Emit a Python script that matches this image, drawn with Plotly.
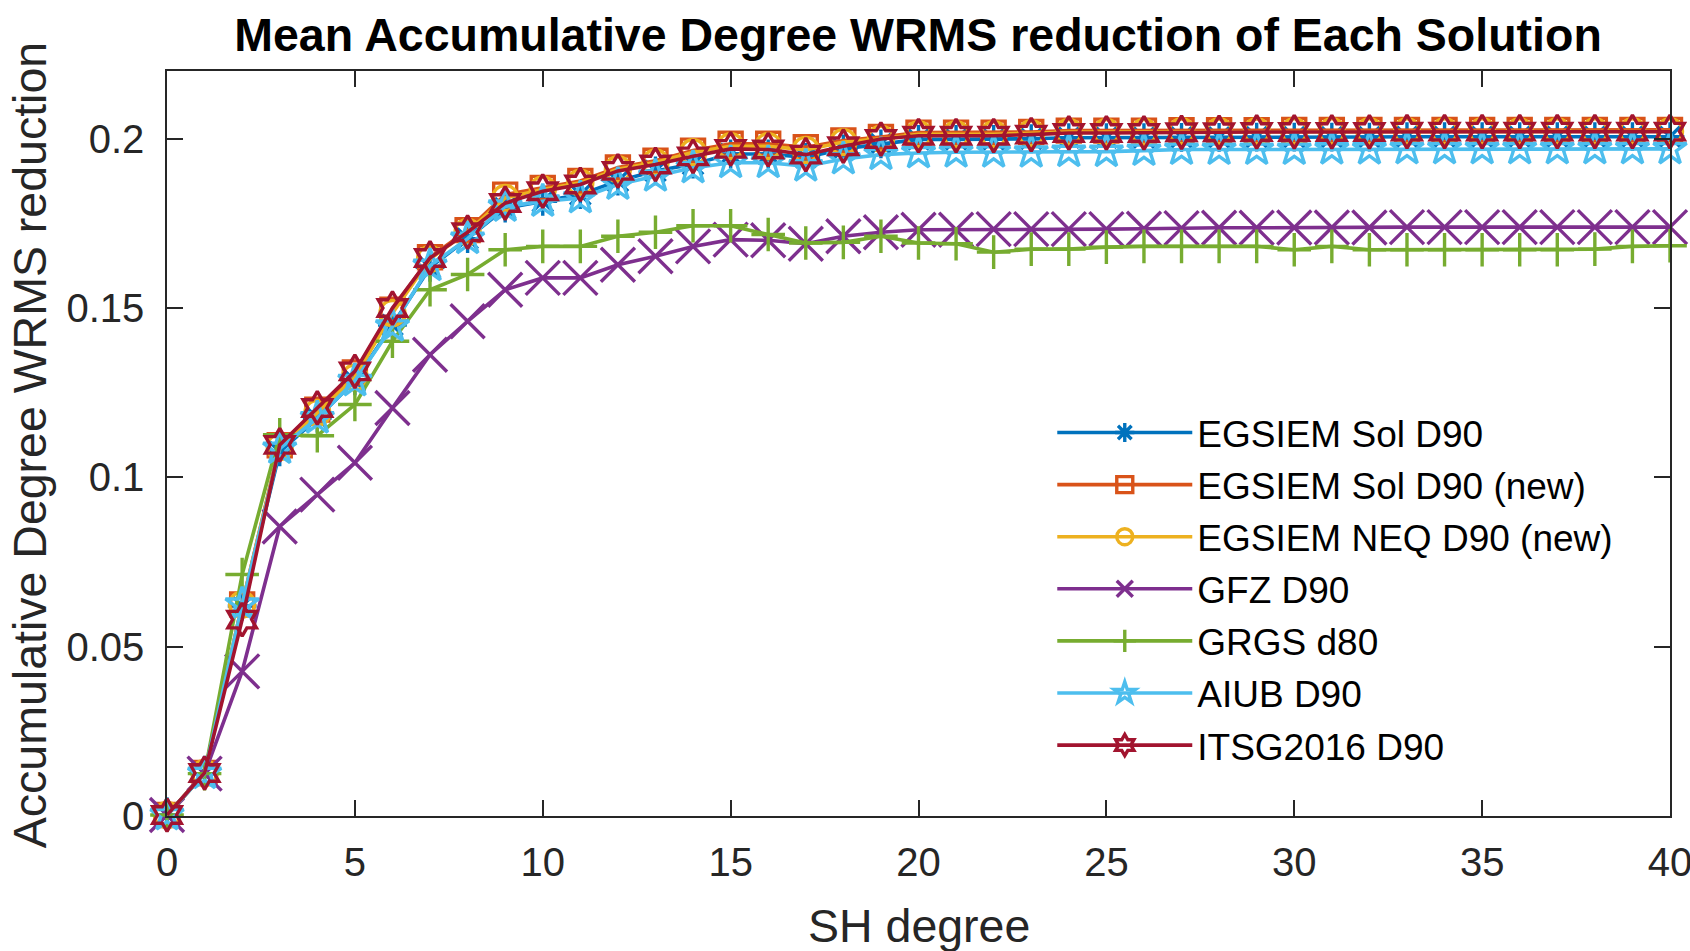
import plotly.graph_objects as go

degrees = list(range(41))

egsiem_sol = [0.0003, 0.0125, 0.0620, 0.1075, 0.1175, 0.1285, 0.1450, 0.1620, 0.1705, 0.1795,
              0.1815, 0.1835, 0.1875, 0.1905, 0.1925, 0.1955, 0.1955, 0.1945, 0.1970, 0.1985,
              0.1998, 0.1998, 0.1998, 0.2000, 0.2003, 0.2003, 0.2003, 0.2004, 0.2004, 0.2005,
              0.2005, 0.2005, 0.2005, 0.2006, 0.2006, 0.2006, 0.2006, 0.2006, 0.2006, 0.2006, 0.2006]
egsiem_sol_new = [0.0003, 0.0127, 0.0625, 0.1095, 0.1200, 0.1310, 0.1495, 0.1650, 0.1730, 0.1835,
                  0.1855, 0.1875, 0.1915, 0.1935, 0.1965, 0.1985, 0.1985, 0.1975, 0.1995, 0.2005,
                  0.2018, 0.2018, 0.2018, 0.2020, 0.2024, 0.2024, 0.2024, 0.2025, 0.2025, 0.2025,
                  0.2026, 0.2026, 0.2026, 0.2026, 0.2026, 0.2026, 0.2026, 0.2026, 0.2026, 0.2026, 0.2026]
egsiem_neq_new = [0.0003, 0.0127, 0.0625, 0.1090, 0.1190, 0.1295, 0.1485, 0.1645, 0.1725, 0.1825,
                  0.1850, 0.1870, 0.1910, 0.1930, 0.1960, 0.1978, 0.1978, 0.1967, 0.1990, 0.2000,
                  0.2013, 0.2013, 0.2013, 0.2016, 0.2020, 0.2020, 0.2020, 0.2022, 0.2022, 0.2022,
                  0.2022, 0.2022, 0.2022, 0.2022, 0.2022, 0.2022, 0.2022, 0.2022, 0.2022, 0.2022, 0.2022]
gfz = [0.0003, 0.0125, 0.0427, 0.0855, 0.0949, 0.1043, 0.1205, 0.1362, 0.1461, 0.1554,
       0.1589, 0.1589, 0.1628, 0.1653, 0.1682, 0.1702, 0.1700, 0.1690, 0.1712, 0.1724,
       0.1731, 0.1731, 0.1733, 0.1733, 0.1733, 0.1733, 0.1734, 0.1736, 0.1737, 0.1737,
       0.1738, 0.1738, 0.1738, 0.1739, 0.1739, 0.1739, 0.1739, 0.1739, 0.1739, 0.1739, 0.1739]
grgs = [0.0003, 0.0125, 0.0713, 0.1126, 0.1123, 0.1215, 0.1402, 0.1554, 0.1599, 0.1672,
        0.1682, 0.1682, 0.1712, 0.1724, 0.1743, 0.1743, 0.1717, 0.1692, 0.1694, 0.1712,
        0.1692, 0.1690, 0.1665, 0.1674, 0.1674, 0.1680, 0.1682, 0.1682, 0.1682, 0.1682,
        0.1672, 0.1682, 0.1672, 0.1672, 0.1672, 0.1672, 0.1672, 0.1672, 0.1674, 0.1682, 0.1684]
aiub = [0.0003, 0.0125, 0.0625, 0.1085, 0.1175, 0.1285, 0.1446, 0.1625, 0.1705, 0.1800,
        0.1815, 0.1825, 0.1865, 0.1889, 0.1914, 0.1929, 0.1929, 0.1919, 0.1940, 0.1953,
        0.1958, 0.1960, 0.1960, 0.1960, 0.1962, 0.1962, 0.1965, 0.1968, 0.1968, 0.1968,
        0.1968, 0.1969, 0.1969, 0.1970, 0.1970, 0.1970, 0.1970, 0.1970, 0.1970, 0.1970, 0.1970]
itsg = [0.0003, 0.0127, 0.0580, 0.1096, 0.1205, 0.1313, 0.1500, 0.1648, 0.1724, 0.1810,
        0.1845, 0.1865, 0.1905, 0.1924, 0.1948, 0.1970, 0.1968, 0.1953, 0.1978, 0.1999,
        0.2009, 0.2009, 0.2009, 0.2012, 0.2017, 0.2017, 0.2017, 0.2019, 0.2019, 0.2020,
        0.2020, 0.2020, 0.2020, 0.2021, 0.2021, 0.2021, 0.2021, 0.2021, 0.2021, 0.2021, 0.2021]

series_names = ["EGSIEM Sol D90", "EGSIEM Sol D90 (new)", "EGSIEM NEQ D90 (new)",
                "GFZ D90", "GRGS d80", "AIUB D90", "ITSG2016 D90"]
series_values = [egsiem_sol, egsiem_sol_new, egsiem_neq_new, gfz, grgs, aiub, itsg]
colors = ["#0072BD", "#D95319", "#EDB120", "#7E2F8E", "#77AC30", "#4DBEEE", "#A2142F"]
symbols = ["asterisk-open", "square-open", "circle-open", "x-thin-open",
           "cross-thin-open", "star-open", "hexagram-open"]
sizes = [24, 23, 25, 34, 24, 25, 25]

x_ticks = [0, 5, 10, 15, 20, 25, 30, 35, 40]
y_ticks = [0, 0.05, 0.1, 0.15, 0.2]
y_tick_text = ["0", "0.05", "0.1", "0.15", "0.2"]

FONT = "Liberation Sans, Arial, sans-serif"
AX = "#262626"

W, H = 1690, 951
L, R, T, B = 166.7, 1669.6, 71, 816.3

fig = go.Figure()
for name, vals, col, sym, sz in zip(series_names, series_values, colors, symbols, sizes):
    fig.add_trace(go.Scatter(
        x=degrees, y=vals, name=name, mode="lines+markers",
        legendgroup=name,
        line=dict(color=col, width=3.6),
        marker=dict(symbol=sym, size=sz, color=col, line=dict(color=col, width=3.4)),
        cliponaxis=False,
    ))

fig.update_layout(
    width=W, height=H,
    margin=dict(l=L, r=W - R, t=T, b=H - B, pad=0),
    paper_bgcolor="white", plot_bgcolor="white",
    font=dict(family=FONT, color=AX),
    title=dict(text="<b>Mean Accumulative Degree WRMS reduction of Each Solution</b>",
               x=918 / W, xanchor="center",
               y=1 - 35 / H, yanchor="middle", yref="container",
               font=dict(size=46.5, color="black", family=FONT)),
    showlegend=True,
    legend=dict(x=0.589, y=0.5558, xanchor="left", yanchor="top",
                bgcolor="rgba(0,0,0,0)", borderwidth=0,
                font=dict(size=37, color="black", family=FONT),
                itemwidth=135, tracegroupgap=1),
    annotations=[
        dict(text="SH degree", xref="paper", yref="paper", x=0.5,
             y=-(926 - B) / (B - T), xanchor="center", yanchor="middle",
             showarrow=False, font=dict(size=46.5, color=AX, family=FONT)),
        dict(text="Accumulative Degree WRMS reduction", xref="paper", yref="paper",
             x=-(L - 30) / (R - L), y=(B - 445) / (B - T), xanchor="center",
             yanchor="middle", textangle=-90, showarrow=False,
             font=dict(size=46.5, color=AX, family=FONT)),
    ],
)
fig.update_xaxes(
    range=[0, 40], tickvals=x_ticks, ticks="inside", ticklen=16, tickwidth=1.5,
    tickcolor=AX, showline=True, linecolor=AX, linewidth=1.5, mirror="ticks",
    showgrid=False, zeroline=False, tickfont=dict(size=40, color=AX, family=FONT),
    automargin=False, ticklabelstandoff=10, ticklabeloverflow="allow",
)
fig.update_yaxes(
    range=[0, 0.22], tickvals=y_ticks, ticktext=y_tick_text, ticks="inside", ticklen=16,
    tickwidth=1.5, tickcolor=AX, showline=True, linecolor=AX, linewidth=1.5, mirror="ticks",
    showgrid=False, zeroline=False, tickfont=dict(size=40, color=AX, family=FONT),
    automargin=False, ticklabelstandoff=13, ticklabeloverflow="allow",
)

fig.write_html("out.html",
               config={"displayModeBar": False},
               post_script="document.body.style.margin='0';document.body.style.overflow='hidden';")
